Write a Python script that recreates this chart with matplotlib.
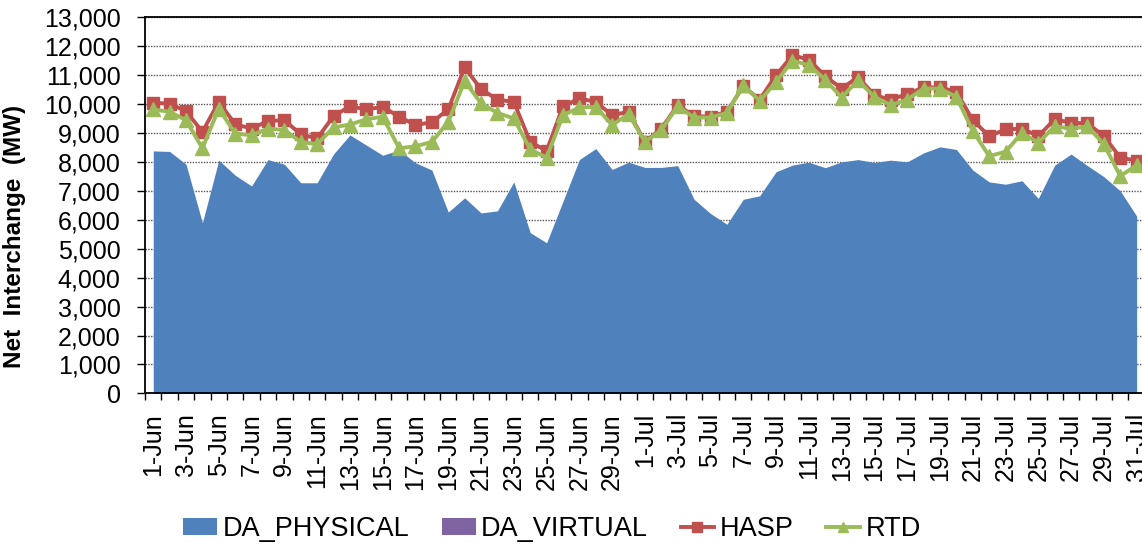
import numpy as np
import matplotlib
matplotlib.use("Agg")
from matplotlib import pyplot as plt
from matplotlib.patches import Patch
from matplotlib.lines import Line2D
from matplotlib.ticker import FuncFormatter, MultipleLocator

plt.rcParams['font.family'] = ['Liberation Sans', 'DejaVu Sans']

months = ["Jun"] * 30 + ["Jul"] * 31
days = list(range(1, 31)) + list(range(1, 32))
dates = [f"{d}-{m}" for d, m in zip(days, months)]

da_physical = [8370, 8350, 7910, 5890, 8050, 7530, 7160, 8070, 7910, 7270,
               7270, 8260, 8920, 8570, 8220, 8400, 7960, 7710, 6260, 6750,
               6230, 6300, 7300, 5550, 5200, 6630, 8070, 8450, 7730, 7980,
               7800, 7800, 7860, 6700, 6210, 5840, 6700, 6820, 7650, 7880,
               7980, 7790, 7990, 8070, 7970, 8050, 7990, 8300, 8510, 8420,
               7710, 7300, 7220, 7340, 6730, 7880, 8260, 7860, 7480, 6990,
               6120]
da_virtual = [0] * 61
hasp = [10030, 10000, 9740, 9030, 10060, 9290, 9140, 9400, 9430, 8940,
        8800, 9570, 9910, 9800, 9890, 9550, 9260, 9360, 9800, 11250,
        10500, 10140, 10060, 8680, 8370, 9910, 10180, 10060, 9600, 9720,
        8680, 9140, 9950, 9570, 9550, 9720, 10600, 10140, 10980, 11670,
        11520, 10950, 10520, 10920, 10290, 10140, 10330, 10560, 10560, 10410,
        9430, 8880, 9110, 9140, 8880, 9460, 9340, 9320, 8880, 8140,
        8030]
rtd = [9800, 9720, 9430, 8460, 9830, 8970, 8910, 9140, 9090, 8680,
       8600, 9180, 9280, 9460, 9550, 8460, 8530, 8680, 9370, 10780,
       10010, 9680, 9490, 8420, 8140, 9600, 9870, 9890, 9260, 9640,
       8680, 9090, 9910, 9520, 9520, 9680, 10640, 10090, 10750, 11480,
       11330, 10830, 10210, 10810, 10230, 9950, 10140, 10520, 10520, 10230,
       9060, 8190, 8340, 8990, 8650, 9220, 9140, 9220, 8600, 7500,
       7880]

blue = "#4F81BD"
purple = "#8064A2"
red = "#C0504D"
green = "#9BBB59"

x = np.arange(len(dates))

fig = plt.figure(figsize=(11.42, 5.44), dpi=100)
ax = fig.add_axes([0.127, 0.2767, 0.8755, 0.6926])

ax.fill_between(x, 0, da_physical, color=blue, linewidth=0, zorder=2)
stack = np.array(da_physical) + np.array(da_virtual)
ax.fill_between(x, da_physical, stack, color=purple, linewidth=0, zorder=2)
ax.plot(x, hasp, color=red, linewidth=2.8, marker="s", markersize=8.5, zorder=3)
ax.plot(x, rtd, color=green, linewidth=2.8, marker="^", markersize=9.5, zorder=4)

ax.set_xlim(-0.5, len(dates) - 0.5)
ax.set_ylim(0, 13000)
ax.yaxis.set_major_locator(MultipleLocator(1000))
ax.yaxis.set_major_formatter(FuncFormatter(lambda v, p: f"{int(v):,}"))
ax.grid(axis="y", color="#555555", linestyle=(0, (1, 1)), linewidth=1.0, zorder=1)
ax.set_axisbelow(True)

ax.set_xticks(x[::2])
ax.set_xticklabels(dates[::2], rotation=90)
ax.set_xticks(np.arange(-0.5, len(dates), 1), minor=True)
ax.tick_params(axis="x", which="major", length=0, pad=14, labelsize=18)
ax.tick_params(axis="x", which="minor", length=5, width=1, direction="out")
ax.tick_params(axis="y", length=5.5, width=1, direction="out", labelsize=18, pad=12)

for s in ["left", "bottom", "top"]:
    ax.spines[s].set_linewidth(1.3)
ax.spines["right"].set_visible(False)

fig.text(15 / 1142, 1 - 236 / 544, "Net  Interchange  (MW)", rotation=90,
         ha="center", va="center", fontsize=17.5, fontweight="bold")

handles = [
    Patch(facecolor=blue, edgecolor="none"),
    Patch(facecolor=purple, edgecolor="none"),
    Line2D([], [], color=red, linewidth=2.8, marker="s", markersize=7),
    Line2D([], [], color=green, linewidth=2.8, marker="^", markersize=7),
]
fig.legend(handles, ["DA_PHYSICAL", "DA_VIRTUAL", "HASP", "RTD"],
           loc="center", bbox_to_anchor=(552 / 1142, 1 - 529 / 544), ncol=4,
           frameon=False, fontsize=19.5, handlelength=1.25, handleheight=0.6,
           handletextpad=0.2, columnspacing=1.2, borderpad=0)

fig.savefig("out.png", dpi=100)
